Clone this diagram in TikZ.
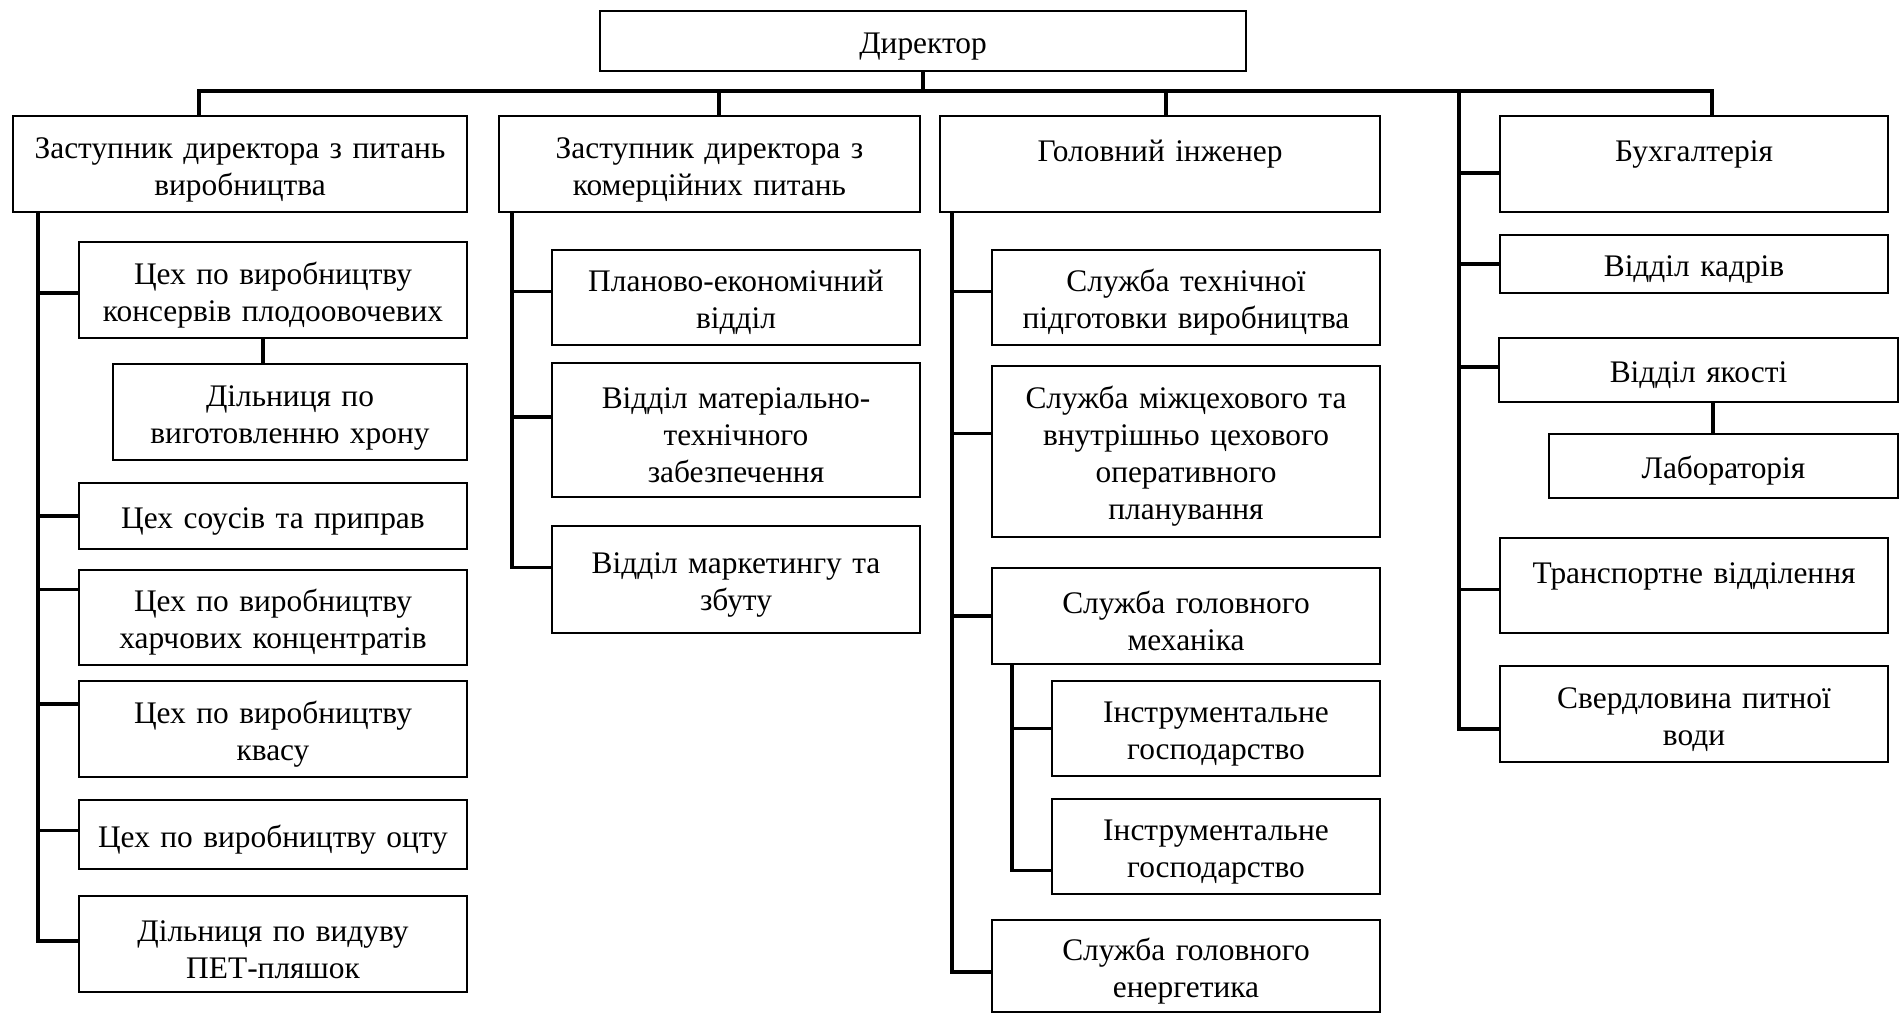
\documentclass[tikz,border=0pt]{standalone}
\usepackage{fontspec}
\setmainfont{Liberation Serif}
\usepackage{tikz}
\usetikzlibrary{positioning}

\begin{document}
\begin{tikzpicture}[
        x=0.5pt, y=-0.5pt,
        box/.style 2 args={draw, rectangle, line width=0.7pt, inner xsep=0pt, inner ysep=0pt, outer sep=0pt,
            text width=#1, minimum height=#2, align=center,
            font=\fontsize{15.7pt}{18.5pt}\selectfont,
            execute at begin node={\rule{0pt}{16pt}}},
        link/.style={line width=1.6pt}
    ]
    \useasboundingbox (0,0) rectangle (1901,1013);

    % Nodes
    \node[box={323pt}{30pt}, anchor=north west] (dir) at (600,11) {Директор};
    \node[box={227pt}{48pt}, anchor=north west] (zast1) at (13,116) {Заступник директора з питань\\виробництва};
    \node[box={210.5pt}{48pt}] (zast2) [right=16pt of zast1.north east, anchor=north west] {Заступник директора з\\комерційних питань};
    \node[box={220pt}{48pt}] (inzh) [right=10pt of zast2.north east, anchor=north west] {Головний інженер\\~};
    \node[box={194pt}{48pt}] (buh) [right=60pt of inzh.north east, anchor=north west] {Бухгалтерія\\~};

    % first column
    \node[box={194pt}{48pt}] (ceh1) [below=15pt of zast1.south east, anchor=north east] {Цех по виробництву\\консервів плодоовочевих};
    \node[box={177pt}{48pt}] (hron) [below=13pt of ceh1.south east, anchor=north east] {Дільниця по\\виготовленню хрону};
    \node[box={194pt}{33pt}] (sous) [below=11.5pt of hron.south east, anchor=north east] {Цех соусів та приправ};
    \node[box={194pt}{47.5pt}] (kharch) [below=10.5pt of sous.south east, anchor=north east] {Цех по виробництву\\харчових концентратів};
    \node[box={194pt}{48pt}] (kvas) [below=8pt of kharch.south east, anchor=north east] {Цех по виробництву\\квасу};
    \node[box={194pt}{34.5pt}] (otset) [below=11.5pt of kvas.south east, anchor=north east] {Цех по виробництву оцту};
    \node[box={194pt}{48pt}] (pet) [below=13.5pt of otset.south east, anchor=north east] {Дільниця по видуву\\ПЕТ-пляшок};

    % second column
    \node[box={184pt}{47.5pt}] (plan) [below=19pt of zast2.south east, anchor=north east] {Планово-економічний\\відділ};
    \node[box={184pt}{67pt}] (mat) [below=9pt of plan.south east, anchor=north east] {Відділ матеріально-\\технічного\\забезпечення};
    \node[box={184pt}{53.5pt}] (mark) [below=14.5pt of mat.south east, anchor=north east] {Відділ маркетингу та\\збуту};

    % third column
    \node[box={194pt}{47.5pt}] (tekh) [below=19pt of inzh.south east, anchor=north east] {Служба технічної\\підготовки виробництва};
    \node[box={194pt}{85.5pt}] (mizh) [below=10.5pt of tekh.south east, anchor=north east] {Служба міжцехового та\\внутрішньо цехового\\оперативного\\планування};
    \node[box={194pt}{48pt}] (mekh) [below=15.5pt of mizh.south east, anchor=north east] {Служба головного\\механіка};
    \node[box={164pt}{47.5pt}] (instr1) [below=8.5pt of mekh.south east, anchor=north east] {Інструментальне\\господарство};
    \node[box={164pt}{47.5pt}] (instr2) [below=11.5pt of instr1.south east, anchor=north east] {Інструментальне\\господарство};
    \node[box={194pt}{46pt}] (energ) [below=13pt of instr2.south east, anchor=north east] {Служба головного\\енергетика};

    % fourth column
    \node[box={194pt}{29pt}] (kadr) [below=11.5pt of buh.south east, anchor=north east] {Відділ кадрів};
    \node[box={199.5pt}{32pt}] (yak) [below=22.5pt of kadr.south east, anchor=north east, xshift=5pt] {Відділ якості};
    \node[box={174.5pt}{32pt}] (lab) [below=16pt of yak.south east, anchor=north east] {Лабораторія};
    \node[box={194pt}{47.5pt}] (trans) [below=20pt of lab.south east, anchor=north east, xshift=-5pt] {Транспортне відділення\\~};
    \node[box={194pt}{48pt}] (sverd) [below=16.5pt of trans.south east, anchor=north east] {Свердловина питної\\води};

    % Lines
    \coordinate (busL) at ([shift={(-20.5pt,12.5pt)}]zast1.north);
    \coordinate (busR) at ([shift={(9pt,12.5pt)}]buh.north);
    \draw[link] (zast1.north -| busL) |- (busR) -- (busR |- buh.north);
    \draw[link] (dir.south) -- (dir.south |- busL);
    \draw[link] (zast2.north) ++(4.75pt,0) |- (busL);
    \draw[link] (inzh.north) ++(3pt,0) |- (busL);

    \coordinate (sp1) at ([xshift=12.5pt]zast1.south west);
    \coordinate (sp2) at ([xshift=6.5pt]zast2.south west);
    \coordinate (sp3) at ([xshift=6pt]inzh.south west);
    \coordinate (sp4) at ([xshift=10pt]mekh.south west);
    \coordinate[left=126.5pt of busR] (sp5);

    \foreach \n/\s in {ceh1/-1.5, sous/0, kharch/14, kvas/12.5, otset/2, pet/1.5}
        \draw[link] ([yshift=\s pt]\n.west) -| (sp1);
    \foreach \n/\s in {plan/3, mat/6.5, mark/6}
        \draw[link] ([yshift=\s pt]\n.west) -| (sp2);
    \foreach \n/\s in {tekh/3, mizh/9, mekh/0, energ/-3}
        \draw[link] ([yshift=\s pt]\n.west) -| (sp3);
    \foreach \n/\s in {instr1/0, instr2/-12}
        \draw[link] ([yshift=\s pt]\n.west) -| (sp4);
    \foreach \n/\s in {buh/-4.5, kadr/0, yak/1.5, trans/-2, sverd/-7.5}
        \draw[link] ([yshift=\s pt]\n.west) -| (sp5);

    \coordinate (hx) at ([xshift=-5pt]ceh1.south);
    \draw[link] (hx) -- (hx |- hron.north);
    \coordinate (lx) at ([xshift=7.25pt]yak.south);
    \draw[link] (lx) -- (lx |- lab.north);

\end{tikzpicture}
\end{document}
